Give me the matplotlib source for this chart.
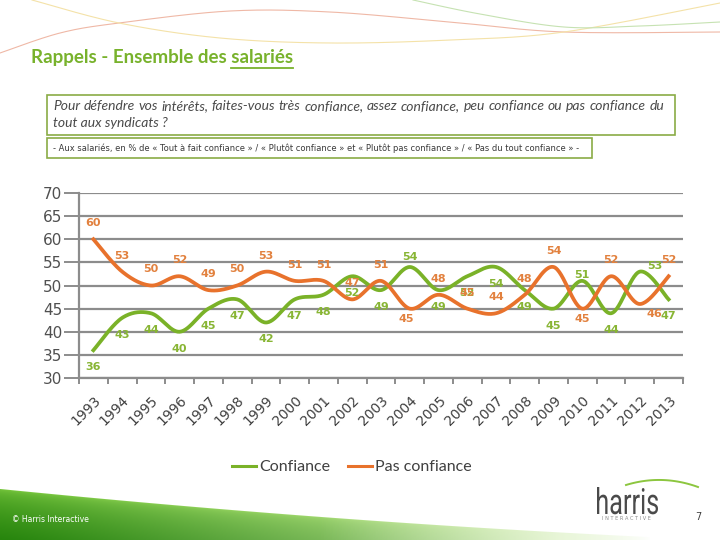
import numpy as np
import matplotlib
matplotlib.use("Agg")
import matplotlib.pyplot as plt
from matplotlib.patches import Rectangle, PathPatch
from matplotlib.textpath import TextPath
from matplotlib.font_manager import FontProperties
import matplotlib.transforms as mtransforms
from matplotlib.lines import Line2D

# ---------------- data ----------------
years = [str(y) for y in range(1993, 2014)]
confiance = [36, 43, 44, 40, 45, 47, 42, 47, 48, 52, 49, 54, 49, 52, 54, 49, 45, 51, 44, 53, 47]
pas_confiance = [60, 53, 50, 52, 49, 50, 53, 51, 51, 47, 51, 45, 48, 45, 44, 48, 54, 45, 52, 46, 52]
yticks = [30, 35, 40, 45, 50, 55, 60, 65, 70]
series_names = ["Confiance", "Pas confiance"]

# label placement (pixel offsets; dy positive = downward)
conf_lbl_dy = [17] * 21
conf_lbl_dx = [0] * 21
conf_lbl_dy[11] = -10
conf_lbl_dy[17] = -6
conf_lbl_dy[19] = -6
conf_lbl_dx[19] = 15
pas_lbl_dy = [-16] * 21
pas_lbl_dx = [0] * 21
pas_lbl_dy[11] = 10
pas_lbl_dx[11] = -4
pas_lbl_dy[17] = 10
pas_lbl_dy[19] = 10
pas_lbl_dx[19] = 15

GREEN = '#7ab228'
ORANGE = '#e8722c'
GREEN_LBL = '#88b534'
ORANGE_LBL = '#e2813e'
GRID = '#8c8c8c'
TXT = '#404040'
BOXC = '#8aac46'
TITLEC = '#78b22c'


def smooth(xs, ys, n=30):
    P = np.column_stack([xs, ys]).astype(float)
    out = []
    m = len(P)
    for i in range(m - 1):
        p0 = P[i - 1] if i > 0 else P[i]
        p1 = P[i]
        p2 = P[i + 1]
        p3 = P[i + 2] if i + 2 < m else P[i + 1]
        c1 = p1 + (p2 - p0) / 6.0
        c2 = p2 - (p3 - p1) / 6.0
        t = np.linspace(0, 1, n, endpoint=(i == m - 2))[:, None]
        seg = (1 - t) ** 3 * p1 + 3 * (1 - t) ** 2 * t * c1 + 3 * (1 - t) * t ** 2 * c2 + t ** 3 * p2
        out.append(seg)
    out = np.vstack(out)
    return out[:, 0], out[:, 1]


fig = plt.figure(figsize=(7.2, 5.4), dpi=100)
fig.patch.set_facecolor('white')

# background axes in pixel coordinates
bg = fig.add_axes([0, 0, 1, 1], zorder=0)
bg.set_xlim(0, 720)
bg.set_ylim(540, 0)
bg.axis('off')

# bottom green swoosh
H, W = 540, 720
yy, xx = np.mgrid[0:H, 0:W].astype(float)
top = 489 + 0.1 * xx - 0.00004 * xx ** 2
inside = np.clip(yy - top + 1, 0, 1)
d = np.clip((yy - top) / np.maximum(540 - top, 1), 0, 1) ** 0.5
c_light = np.array([0.47, 0.78, 0.24])
c_dark = np.array([0.15, 0.52, 0.05])
rgb = c_light[None, None, :] * (1 - d[..., None]) + c_dark[None, None, :] * d[..., None]
k = np.clip(xx / 560, 0, 1)[..., None] ** 1.2
c_pale = np.array([0.78, 0.91, 0.62])
rgb = rgb * (1 - k) + c_pale[None, None, :] * k
fade = np.clip((650 - xx) / 330, 0, 1) ** 0.7
alpha = inside * fade
img = np.dstack([rgb, alpha])
bg.imshow(img, extent=(0, 720, 540, 0), aspect='auto', zorder=0, interpolation='bilinear')

# top decorative curves
red_pts = [(0, 53), (60, 33), (119, 23), (230, 11), (330, 12), (450, 22), (564, 32), (720, 32)]
yel_pts = [(32, 0), (119, 23), (220, 38), (330, 43), (450, 40), (564, 32), (720, 3)]
grn_pts = [(413, 0), (480, 14), (564, 27), (640, 26), (720, 22)]
for pts, col in [(red_pts, '#efb8a6'), (yel_pts, '#f4e2a8'), (grn_pts, '#c6e2b2')]:
    px, py = smooth([p[0] for p in pts], [p[1] for p in pts])
    bg.plot(px, py, color=col, lw=0.8, zorder=1)

fig.canvas.draw()
renderer = fig.canvas.get_renderer()


def text_width(s, **kw):
    t = bg.text(0, 0, s, **kw)
    w = t.get_window_extent(renderer).width
    t.remove()
    return w


def fit_text(x, y, s, target_w, size0=10, **kw):
    w = text_width(s, fontsize=size0, **kw)
    size = size0 * target_w / w
    return bg.text(x, y, s, fontsize=size, **kw)


# title with underline on last word
title = "Rappels - Ensemble des salariés"
tt = fit_text(31, 58, title, 262, size0=13, family='Lato', fontweight='bold',
              color=TITLEC, ha='left', va='center')
fs_title = tt.get_fontsize()
ext = tt.get_window_extent(renderer)
w_word = text_width("salariés", fontsize=fs_title, family='Lato', fontweight='bold')
x_end = ext.x1
y_line = 540 - ext.y0 + 1.5
bg.plot([x_end - w_word, x_end], [y_line, y_line], color=TITLEC, lw=1.3, zorder=3)

# question box
bg.add_patch(Rectangle((47, 95), 628, 40, fill=False, edgecolor=BOXC, lw=1.2, zorder=3))
line1 = "Pour défendre vos intérêts, faites-vous très confiance, assez confiance, peu confiance ou pas confiance du"
line2 = "tout aux syndicats ?"
qkw = dict(family='Lato', style='italic', fontsize=10, color='#4a4a4a')
words = line1.split(' ')
ws = [text_width(w, **qkw) for w in words]
x0, x1 = 53, 664
gap = (x1 - x0 - sum(ws)) / (len(words) - 1)
xc = x0
for w, wd in zip(words, ws):
    bg.text(xc, 106, w, ha='left', va='center', **qkw)
    xc += wd + gap
bg.text(53, 123, line2, ha='left', va='center', **qkw)

# subtitle box
bg.add_patch(Rectangle((47, 138), 545, 20, fill=False, edgecolor=BOXC, lw=1.2, zorder=3))
sub = "- Aux salariés, en % de « Tout à fait confiance » / « Plutôt confiance » et « Plutôt pas confiance » / « Pas du tout confiance » -"
fit_text(53, 148, sub, 528, size0=7, family='DejaVu Sans', color='#3a3a3a', ha='left', va='center')

# footer texts
bg.text(12, 519, "© Harris Interactive", fontsize=5.5, color='white', ha='left', va='center', zorder=3)
bg.text(698, 517, "7", fontsize=7, color=TXT, ha='center', va='center', zorder=3)

# logo
fp = FontProperties(family='Roboto')
tp = TextPath((0, 0), 'harris', size=30, prop=fp)
bb = tp.get_extents()
sx = 61.0 / bb.width
sy = 27.0 / bb.y1
tr = mtransforms.Affine2D().translate(-bb.x0, 0).scale(sx, -sy).translate(597, 514)
bg.add_patch(PathPatch(tr.transform_path(tp), facecolor='#4a4a4a', edgecolor='none', zorder=3))
bg.text(626, 519, "I N T E R A C T I V E", fontsize=3.6, color='#8a8a8a', ha='center', va='center', zorder=3)
t = np.linspace(0, 1, 40)
p0, pc, p2 = np.array([626, 485]), np.array([662, 474]), np.array([698, 487])
arc = (1 - t)[:, None] ** 2 * p0 + 2 * ((1 - t) * t)[:, None] * pc + (t ** 2)[:, None] * p2
bg.plot(arc[:, 0], arc[:, 1], color='#8cc63f', lw=1.4, zorder=3)

# ---------------- main chart ----------------
ax = fig.add_axes([79 / 720, 1 - 378 / 540, 604 / 720, 185 / 540], zorder=2)
ax.patch.set_alpha(0)
ax.set_xlim(-0.5, len(years) - 0.5)
ax.set_ylim(30, 70)
ax.set_yticks(yticks)
ax.yaxis.grid(True, color=GRID, lw=1.6)
ax.set_axisbelow(True)
for s in ['top', 'right']:
    ax.spines[s].set_visible(False)
for s in ['left', 'bottom']:
    ax.spines[s].set_color(GRID)
    ax.spines[s].set_linewidth(1.6)
ax.tick_params(axis='y', length=11, color=GRID, width=1.4, labelsize=11, labelcolor='#505050', pad=1)

xs = np.arange(len(years))
ax.set_xticks(xs)
ax.set_xticklabels(years, rotation=45, ha='right', rotation_mode='anchor')
ax.tick_params(axis='x', which='major', length=0, pad=11, labelsize=10, labelcolor=TXT)
ax.set_xticks(np.arange(len(years) + 1) - 0.5, minor=True)
ax.tick_params(axis='x', which='minor', length=4.5, color=GRID, width=1.4)

gx, gy = smooth(xs, confiance)
ox, oy = smooth(xs, pas_confiance)
ax.plot(gx, gy, color=GREEN, lw=2.7, zorder=3, clip_on=False)
ax.plot(ox, oy, color=ORANGE, lw=2.7, zorder=3, clip_on=False)

for i, v in enumerate(confiance):
    ax.annotate(str(v), (i, v), xytext=(conf_lbl_dx[i] * 0.72, -conf_lbl_dy[i] * 0.72),
                textcoords='offset points', ha='center', va='center', fontsize=8,
                fontweight='bold', color=GREEN_LBL, zorder=4)
for i, v in enumerate(pas_confiance):
    ax.annotate(str(v), (i, v), xytext=(pas_lbl_dx[i] * 0.72, -pas_lbl_dy[i] * 0.72),
                textcoords='offset points', ha='center', va='center', fontsize=8,
                fontweight='bold', color=ORANGE_LBL, zorder=4)

fig.legend([Line2D([], [], color=GREEN, lw=2.2), Line2D([], [], color=ORANGE, lw=2.2)],
           series_names, loc='center', bbox_to_anchor=(352 / 720, 1 - 467 / 540), ncol=2,
           frameon=False, handlelength=1.5, handletextpad=0.2, columnspacing=1.1,
           prop=FontProperties(family='Lato', size=11.5), labelcolor=TXT)

fig.savefig('out.png', dpi=100, facecolor='white')
